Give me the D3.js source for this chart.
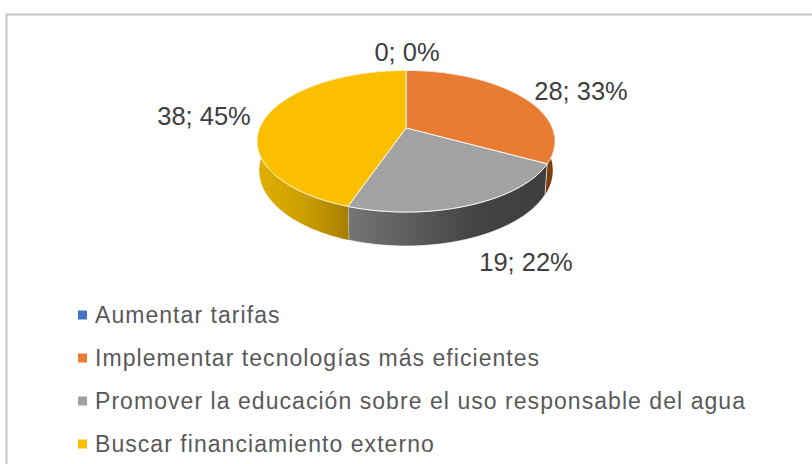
<!DOCTYPE html>
<html>
<head>
<meta charset="utf-8">
<script src="https://cdn.jsdelivr.net/npm/d3@7"></script>
<style>
  html, body { margin: 0; padding: 0; background: #fff; }
  svg { display: block; }
  text { font-family: "Liberation Sans", Arial, sans-serif; }
</style>
</head>
<body>
<div id="chart"></div>
<script>
const categories = [
  'Aumentar tarifas',
  'Implementar tecnologías más eficientes',
  'Promover la educación sobre el uso responsable del agua',
  'Buscar financiamiento externo'
];
const values = [0, 28, 19, 38];
const percents = [0, 33, 22, 45];
const colors = ['#4472c4', '#ea7b33', '#a2a2a2', '#fcbf00'];

const width = 812;
const height = 464;

// Perspectiva del pastel 3D
const cx = 406;
const cy = 128;
const radiusX = 146.4;
const radiusY = 68.3;
const persp = 0.187;
const bottomShrink = 0.985;

// Posicion de las etiquetas (centro, linea base)
const labelX = [407, 581, 526, 204];
const labelY = [61, 100, 271, 125];

const svg = d3.select('#chart')
  .append('svg')
  .attr('width', width)
  .attr('height', height);

// Marco del grafico
svg.append('path')
  .attr('d', `M6.5,${height}V14.5H${width}`)
  .attr('fill', 'none')
  .attr('stroke', '#c6c6c6')
  .attr('stroke-width', 2);

const defs = svg.append('defs');

function sideGradient(id, x1, x2, stops) {
  const g = defs.append('linearGradient')
    .attr('id', id)
    .attr('gradientUnits', 'userSpaceOnUse')
    .attr('x1', x1).attr('x2', x2)
    .attr('y1', 0).attr('y2', 0);
  stops.forEach(s => g.append('stop').attr('offset', s[0]).attr('stop-color', s[1]));
}
sideGradient('side1', 540, 556, [[0, '#6e3208'], [1, '#8a4512']]);
sideGradient('side2', 349, 547, [[0, '#747474'], [0.65, '#434343'], [1, '#3e3e3e']]);
sideGradient('side3', 257, 349, [[0, '#e2b000'], [0.5, '#cb9f00'], [1, '#a67e00']]);

// Punto del borde superior para un angulo
function topPoint(a) {
  const u = Math.sin(a);
  const v = -Math.cos(a);
  const w = 1 - persp * v;
  return [cx + radiusX * u / w, cy + radiusY * v / w];
}

// Punto del borde inferior para un angulo
function bottomPoint(a) {
  const p = topPoint(a);
  const depth = 28 + 6 * (-Math.cos(a));
  return [cx + (p[0] - cx) * bottomShrink, p[1] + depth];
}

const pie = d3.pie().sort(null).value(d => d);
const arcs = pie(values);
const line = d3.line();

function sampleAngles(d) {
  const n = Math.max(2, Math.ceil((d.endAngle - d.startAngle) * 60));
  return d3.range(n + 1).map(i => d.startAngle + (d.endAngle - d.startAngle) * i / n);
}

// Paredes laterales
svg.append('g').selectAll('path')
  .data(arcs.filter(d => d.value > 0))
  .enter()
  .append('path')
  .attr('d', d => {
    const angles = sampleAngles(d);
    const pts = angles.map(topPoint).concat(angles.slice().reverse().map(bottomPoint));
    return line(pts) + 'Z';
  })
  .attr('fill', d => `url(#side${d.index})`)
  .attr('stroke', '#ffffff')
  .attr('stroke-opacity', d => d.index === 2 ? 0.7 : 0)
  .attr('stroke-width', 1);

// Caras superiores
svg.append('g').selectAll('path')
  .data(arcs.filter(d => d.value > 0))
  .enter()
  .append('path')
  .attr('d', d => line([[cx, cy]].concat(sampleAngles(d).map(topPoint))) + 'Z')
  .attr('fill', d => colors[d.index])
  .attr('stroke', '#ffffff')
  .attr('stroke-opacity', 0.85)
  .attr('stroke-width', 1)
  .attr('stroke-linejoin', 'round');

// Etiquetas de datos
svg.append('g').selectAll('text')
  .data(values)
  .enter()
  .append('text')
  .attr('x', (d, i) => labelX[i])
  .attr('y', (d, i) => labelY[i])
  .attr('text-anchor', 'middle')
  .attr('font-size', 25.5)
  .attr('fill', '#404040')
  .text((d, i) => `${d}; ${percents[i]}%`);

// Leyenda
const legendY = d3.scalePoint()
  .domain(categories)
  .range([315, 444]);

const legend = svg.append('g').selectAll('g')
  .data(categories)
  .enter()
  .append('g')
  .attr('transform', d => `translate(78,${legendY(d)})`);

legend.append('rect')
  .attr('x', 0)
  .attr('y', -4.5)
  .attr('width', 9)
  .attr('height', 9)
  .attr('fill', (d, i) => colors[i]);

legend.append('text')
  .attr('x', 17)
  .attr('y', 8)
  .attr('font-size', 23)
  .attr('letter-spacing', 1.05)
  .attr('fill', '#595959')
  .text(d => d);
</script>
</body>
</html>
